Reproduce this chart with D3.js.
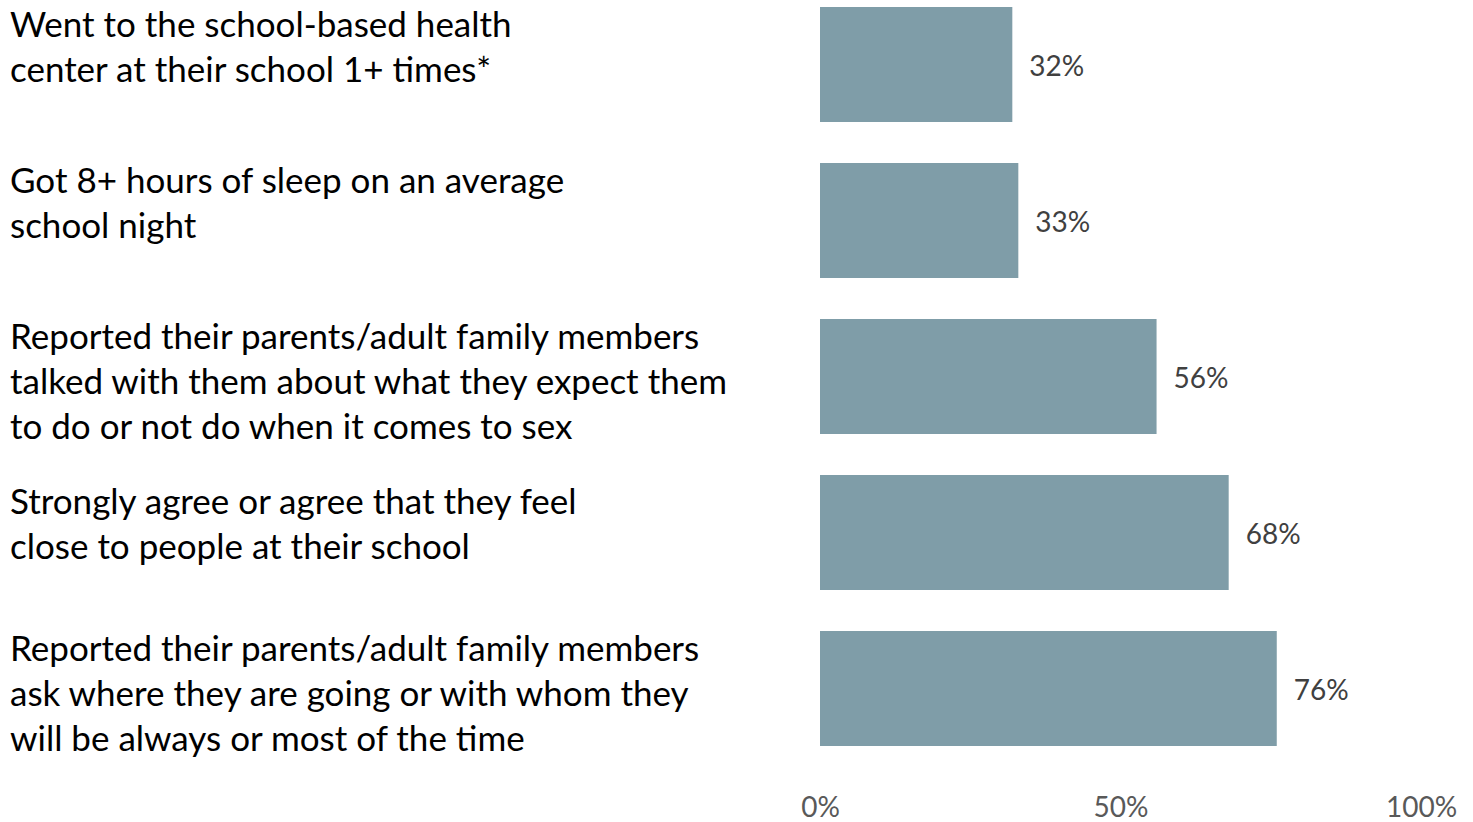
<!DOCTYPE html>
<html>
<head>
<meta charset="utf-8">
<script src="https://cdn.jsdelivr.net/npm/d3@7"></script>
<style>
  html, body { margin: 0; padding: 0; background: #ffffff; }
  svg { display: block; }
  text { font-family: Lato, "Open Sans", "Liberation Sans", sans-serif; }
</style>
</head>
<body>
<svg id="chart" width="1473" height="822"></svg>
<script>
// Survey indicators (label lines) and the share of students for each
const categories = [
  ["Went to the school-based health", "center at their school 1+ times*"],
  ["Got 8+ hours of sleep on an average", "school night"],
  ["Reported their parents/adult family members", "talked with them about what they expect them", "to do or not do when it comes to sex"],
  ["Strongly agree or agree that they feel", "close to people at their school"],
  ["Reported their parents/adult family members", "ask where they are going or with whom they", "will be always or most of the time"]
];
const values = [32, 33, 56, 68, 76];
const tickValues = [0, 50, 100];

const svg = d3.select("#chart");
const ids = categories.map((c, i) => i);

const x = d3.scaleLinear().domain([0, 100]).range([820, 1421]);
const y = d3.scaleBand()
  .domain(ids)
  .range([7, 746])
  .paddingInner(41 / 156)
  .paddingOuter(0);

// Bars
svg.append("g").selectAll("rect")
  .data(ids)
  .join("rect")
  .attr("x", x(0))
  .attr("y", i => y(i))
  .attr("width", i => x(values[i]) - x(0))
  .attr("height", y.bandwidth())
  .attr("fill", "#7f9da8");

// Value labels
svg.append("g").selectAll("text")
  .data(ids)
  .join("text")
  .attr("x", i => x(values[i]) + 17)
  .attr("y", i => y(i) + y.bandwidth() / 2)
  .attr("dy", "0.4em")
  .attr("font-size", 28)
  .attr("fill", "#404040")
  .text(i => values[i] + "%");

// Category labels, one tspan per line; the fourth text box sits a little lower
const lineGap = 45;
const labelNudge = { 3: 9 };
const catG = svg.append("g");
ids.forEach(i => {
  const t = catG.append("text")
    .attr("x", 10)
    .attr("y", y(i) + 30 + (labelNudge[i] || 0))
    .attr("font-size", 35)
    .attr("fill", "#000000");
  categories[i].forEach((line, k) => {
    t.append("tspan")
      .attr("x", 10)
      .attr("dy", k === 0 ? 0 : lineGap)
      .text(line);
  });
});

// Bottom axis: tick labels only
const xAxis = d3.axisBottom(x)
  .tickValues(tickValues)
  .tickFormat(d => d + "%")
  .tickSize(0)
  .tickPadding(0);

const axisG = svg.append("g")
  .attr("transform", "translate(0,797)")
  .call(xAxis);
axisG.select(".domain").remove();
axisG.selectAll("text")
  .attr("font-size", 28)
  .attr("font-family", "Lato, 'Open Sans', sans-serif")
  .attr("fill", "#595959")
  .attr("dy", "0.71em");
</script>
</body>
</html>
